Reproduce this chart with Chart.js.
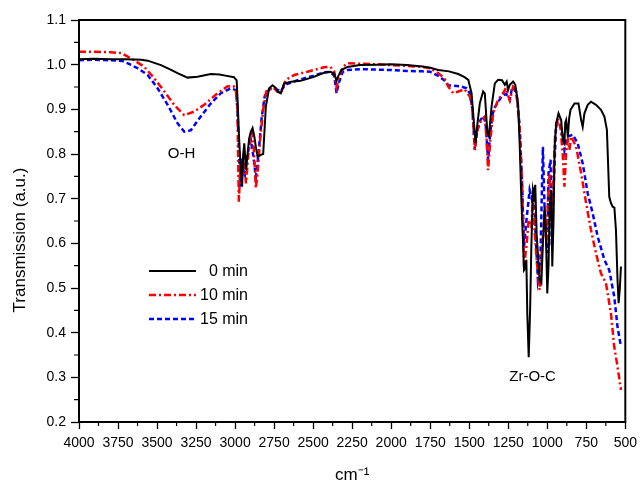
<!DOCTYPE html>
<html>
<head>
<meta charset="utf-8">
<script src="https://cdn.jsdelivr.net/npm/chart.js@4/dist/chart.umd.min.js"></script>
<style>
html,body{margin:0;padding:0;background:#fff;}
#wrap{width:643px;height:486px;position:relative;}
</style>
</head>
<body>
<div id="wrap"><canvas id="c" width="643" height="486"></canvas></div>
<script>
// ---- data (wavenumber, cm-1 / transmission, a.u.) ----
const seriesNames = ["0 min", "10 min", "15 min"];
const xTicks = [4000,3750,3500,3250,3000,2750,2500,2250,2000,1750,1500,1250,1000,750,500];
const yTicks = [0.2,0.3,0.4,0.5,0.6,0.7,0.8,0.9,1.0,1.1];

const wn0 = [4000,3900,3800,3700,3600,3560,3475,3420,3369,3305,3241,3156,3100,3071,3007,2990,2984,2975,2967,2955,2948,2941,2935,2930,2920,2910,2899,2888,2877,2867,2856,2835,2820,2803,2782,2760,2740,2729,2707,2686,2660,2640,2580,2500,2431,2390,2365,2350,2338,2320,2280,2200,2100,2000,1900,1800,1750,1698,1630,1570,1530,1506,1485,1468,1459,1450,1432,1411,1400,1390,1383,1374,1357,1336,1315,1290,1272,1260,1251,1240,1219,1205,1187,1177,1166,1155,1149,1140,1134,1128,1119,1110,1102,1092,1085,1077,1068,1049,1038,1028,1017,1010,1000,992,985,975,968,960,953,943,928,911,900,890,885,879,868,860,851,826,800,783,773,762,741,720,688,656,634,618,603,592,581,570,560,550,543,535,528];
const t0  = [1.012,1.013,1.012,1.012,1.011,1.009,0.999,0.990,0.981,0.971,0.973,0.979,0.978,0.976,0.972,0.965,0.921,0.840,0.787,0.727,0.800,0.824,0.790,0.764,0.800,0.835,0.850,0.858,0.840,0.816,0.794,0.798,0.800,0.906,0.947,0.954,0.948,0.940,0.936,0.958,0.960,0.962,0.964,0.972,0.982,0.984,0.980,0.964,0.975,0.988,0.995,0.999,1.000,1.001,0.999,0.996,0.993,0.988,0.985,0.979,0.972,0.966,0.936,0.861,0.824,0.860,0.914,0.940,0.935,0.880,0.846,0.840,0.906,0.958,0.966,0.965,0.955,0.962,0.943,0.955,0.962,0.955,0.913,0.824,0.697,0.600,0.540,0.545,0.563,0.443,0.345,0.450,0.593,0.719,0.705,0.731,0.620,0.518,0.511,0.600,0.682,0.640,0.488,0.550,0.680,0.719,0.548,0.650,0.816,0.869,0.891,0.876,0.831,0.824,0.870,0.876,0.839,0.880,0.899,0.913,0.913,0.876,0.861,0.891,0.910,0.917,0.910,0.899,0.884,0.854,0.704,0.690,0.682,0.680,0.630,0.518,0.466,0.500,0.548];

const wn10 = [4000,3900,3800,3730,3687,3634,3581,3517,3453,3390,3326,3262,3198,3113,3050,3010,2995,2985,2976,2965,2955,2945,2930,2915,2900,2888,2878,2867,2855,2840,2820,2800,2760,2730,2707,2675,2620,2537,2431,2390,2365,2350,2335,2310,2280,2200,2100,2000,1900,1800,1750,1698,1660,1634,1602,1570,1530,1495,1480,1464,1450,1432,1400,1390,1379,1365,1347,1315,1283,1265,1250,1240,1219,1200,1177,1162,1149,1134,1119,1102,1092,1080,1064,1049,1035,1017,1005,995,985,975,965,949,932,915,900,890,880,868,858,847,815,783,751,720,688,656,624,592,571,550,528];
const t10  = [1.029,1.029,1.028,1.026,1.018,1.007,0.995,0.969,0.940,0.910,0.887,0.895,0.910,0.936,0.951,0.952,0.945,0.900,0.693,0.780,0.750,0.800,0.734,0.800,0.840,0.853,0.800,0.723,0.760,0.830,0.900,0.940,0.950,0.940,0.936,0.966,0.977,0.984,0.994,0.995,0.985,0.949,0.970,0.995,1.003,1.002,1.001,0.999,0.997,0.995,0.992,0.981,0.970,0.951,0.936,0.940,0.945,0.928,0.900,0.809,0.850,0.870,0.884,0.840,0.764,0.830,0.891,0.921,0.936,0.948,0.930,0.920,0.951,0.945,0.861,0.742,0.548,0.593,0.652,0.637,0.697,0.620,0.548,0.496,0.580,0.667,0.600,0.700,0.757,0.650,0.720,0.846,0.880,0.860,0.794,0.727,0.800,0.831,0.809,0.839,0.816,0.757,0.690,0.630,0.578,0.533,0.511,0.443,0.369,0.324,0.272];

const wn15 = [4000,3900,3800,3720,3687,3624,3560,3496,3432,3369,3326,3284,3220,3156,3092,3029,2994,2985,2967,2955,2945,2937,2920,2899,2885,2867,2850,2830,2810,2780,2740,2707,2680,2600,2500,2431,2390,2365,2350,2335,2310,2280,2200,2100,2000,1900,1800,1750,1698,1660,1634,1600,1550,1517,1495,1480,1464,1450,1430,1410,1395,1379,1365,1345,1294,1265,1240,1225,1210,1195,1177,1162,1149,1134,1113,1100,1085,1075,1060,1045,1028,1015,1000,992,979,971,960,943,925,900,890,880,868,837,805,773,741,709,677,634,603,571,550,528];
const t15  = [1.010,1.011,1.010,1.008,1.003,0.992,0.977,0.947,0.910,0.869,0.850,0.853,0.884,0.913,0.936,0.947,0.943,0.900,0.727,0.790,0.760,0.753,0.800,0.831,0.800,0.749,0.800,0.880,0.930,0.945,0.946,0.940,0.955,0.965,0.975,0.983,0.984,0.975,0.936,0.960,0.984,0.988,0.990,0.989,0.988,0.986,0.985,0.984,0.975,0.965,0.954,0.953,0.951,0.947,0.935,0.900,0.809,0.850,0.875,0.885,0.870,0.787,0.850,0.900,0.928,0.935,0.921,0.950,0.945,0.930,0.861,0.742,0.593,0.650,0.719,0.700,0.727,0.620,0.518,0.550,0.816,0.650,0.578,0.757,0.787,0.593,0.720,0.869,0.872,0.839,0.809,0.830,0.839,0.843,0.824,0.779,0.712,0.667,0.615,0.563,0.540,0.481,0.413,0.369];

const annotations = [
  {text: "O-H", x: 3343, y: 0.80},
  {text: "Zr-O-C", x: 1094, y: 0.30}
];

// ---- chart ----
const FONT = "'Liberation Sans', Arial, sans-serif";
const colors = ["#000000", "#ff0000", "#0000ff"];
const dashes = [[], [7,3,2,3], [5,3]];
const widths = [2, 2.5, 2.5];

function pts(xs, ys){ return xs.map((x,i)=>({x:x, y:ys[i]})); }

const frame = {
  id: 'frame',
  afterDatasetsDraw(chart){
    const {ctx, chartArea:a, scales:{x, y}} = chart;
    ctx.save();
    // minor ticks
    ctx.strokeStyle = '#000'; ctx.lineWidth = 1.2;
    ctx.beginPath();
    for (let v = 3875; v > 500; v -= 250){
      const px = x.getPixelForValue(v);
      ctx.moveTo(px, a.bottom); ctx.lineTo(px, a.bottom + 4);
    }
    for (let v = 0.25; v < 1.1; v += 0.1){
      const py = y.getPixelForValue(v);
      ctx.moveTo(a.left, py); ctx.lineTo(a.left - 5, py);
    }
    ctx.stroke();
    // box
    ctx.lineWidth = 2;
    ctx.strokeRect(a.left, a.top, a.right - a.left, a.bottom - a.top);
    // annotations
    ctx.fillStyle = '#000';
    ctx.font = "15px " + FONT;
    ctx.textAlign = 'center'; ctx.textBaseline = 'middle';
    annotations.forEach(an => {
      ctx.fillText(an.text, x.getPixelForValue(an.x), y.getPixelForValue(an.y));
    });
    // legend
    const ly = [271, 295, 319];
    ctx.font = "16px " + FONT;
    ctx.textAlign = 'right';
    chart.data.datasets.forEach((ds, i) => {
      ctx.beginPath();
      ctx.strokeStyle = ds.borderColor;
      ctx.lineWidth = ds.borderWidth;
      ctx.setLineDash(ds.borderDash || []);
      ctx.moveTo(149, ly[i]); ctx.lineTo(196, ly[i]);
      ctx.stroke();
      ctx.setLineDash([]);
      ctx.fillText(ds.label, 248, ly[i] + 1);
    });
    // y title
    ctx.save();
    ctx.translate(20, 240);
    ctx.rotate(-Math.PI/2);
    ctx.textAlign = 'center';
    ctx.font = "17px " + FONT;
    ctx.fillText("Transmission (a.u.)", 0, 0);
    ctx.restore();
    ctx.restore();
  }
};

new Chart(document.getElementById('c'), {
  type: 'scatter',
  data: {
    datasets: [
      {label: seriesNames[0], data: pts(wn0, t0)},
      {label: seriesNames[1], data: pts(wn10, t10)},
      {label: seriesNames[2], data: pts(wn15, t15)}
    ].map((d, i) => Object.assign(d, {
      showLine: true, pointRadius: 0, borderColor: colors[i], backgroundColor: colors[i],
      borderWidth: widths[i], borderDash: dashes[i], tension: 0, fill: false
    }))
  },
  options: {
    responsive: false, animation: false,
    layout: {padding: {top: 20, right: 15, left: 0, bottom: 0}},
    plugins: {legend: {display: false}, tooltip: {enabled: false}},
    scales: {
      x: {
        type: 'linear', reverse: true, min: 500, max: 4000,
        afterFit(s){ s.height = 64; },
        afterBuildTicks(s){ s.ticks = xTicks.map(v => ({value: v})); },
        grid: {drawOnChartArea: false, tickLength: 7, tickColor: '#000', tickWidth: 1.3},
        border: {display: false},
        ticks: {autoSkip: false, maxRotation: 0, color: '#000', padding: 6,
                font: {family: FONT, size: 14}, callback: v => String(v)},
        title: {display: true, text: 'cm\u207B\u00B9', color: '#000',
                font: {family: FONT, size: 17}, padding: {top: 4, bottom: 0}}
      },
      y: {
        type: 'linear', min: 0.2, max: 1.1,
        afterFit(s){ s.width = 79; },
        afterBuildTicks(s){ s.ticks = yTicks.map(v => ({value: v})); },
        grid: {drawOnChartArea: false, tickLength: 8, tickColor: '#000', tickWidth: 1.3},
        border: {display: false},
        ticks: {color: '#000', padding: 5, font: {family: FONT, size: 14},
                callback: v => Number(v).toFixed(1)}
      }
    }
  },
  plugins: [frame]
});
</script>
</body>
</html>
